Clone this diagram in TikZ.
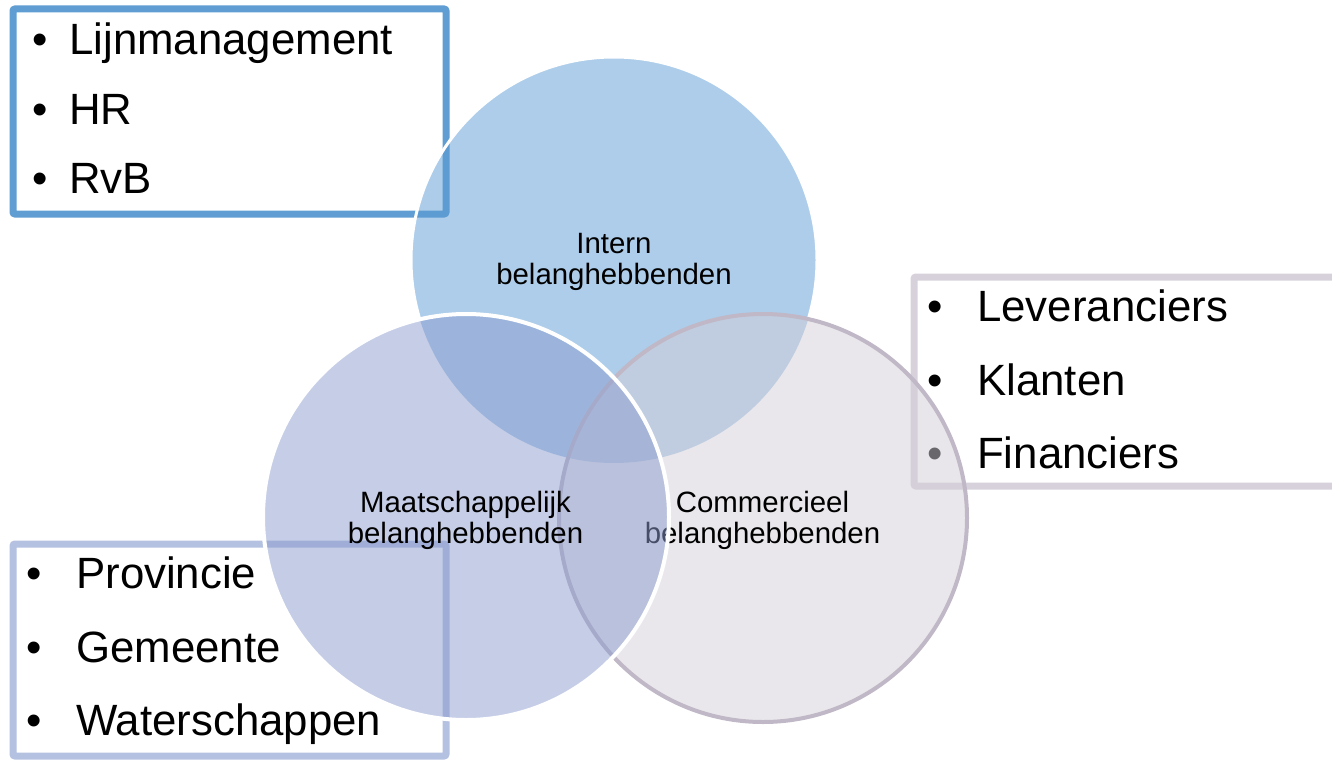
\documentclass[tikz,border=0pt]{standalone}
\usepackage{fontspec}
\setmainfont{Liberation Sans}
\definecolor{internblue}{RGB}{91,155,213}
\definecolor{maatblue}{RGB}{141,157,207}
\definecolor{commgray}{RGB}{211,207,215}
\definecolor{commline}{RGB}{192,184,198}
\definecolor{boxblue}{RGB}{96,157,210}
\definecolor{boxgray}{RGB}{214,209,219}
\definecolor{boxlav}{RGB}{180,193,225}
\begin{document}
\begin{tikzpicture}[x=1pt,y=-1pt,
  listbox/.style={draw=#1, fill=white, line width=7pt, rounded corners=2pt,
    inner sep=0pt, rectangle},
  listtext/.style={anchor=base west, inner sep=0pt,
    font=\fontsize{43.8}{50}\selectfont},
  bulletmark/.style={anchor=base, inner sep=0pt,
    font=\fontsize{43.8}{50}\selectfont},
  venn/.style={circle, inner sep=0pt, minimum size=#1},
  circlabel/.style={anchor=base, align=center, inner sep=0pt,
    font=\fontsize{29.4}{31}\selectfont}]
\useasboundingbox (0,0) rectangle (1332,760);
\clip (0,0) rectangle (1332,760);

% stakeholder lists
\node[listbox=boxblue, minimum width=433pt, minimum height=205pt] (boxint) at (229.5,111.5) {};
\node[listbox=boxgray, minimum width=431pt, minimum height=209pt] (boxcom) at (1129.5,381.5) {};
\node[listbox=boxlav, minimum width=433pt, minimum height=212pt] (boxmaat) at (229.5,650) {};

\node[bulletmark] (b1) at (40.5,55) {•};
\node[listtext] (t1) at (69,55) {Lijnmanagement};
\node[bulletmark] (b2) at (40.5,124) {•};
\node[listtext] (t2) at (69,124) {HR};
\node[bulletmark] (b3) at (40.5,193) {•};
\node[listtext] (t3) at (69,193) {RvB};

\node[bulletmark] (b4) at (935,321.5) {•};
\node[listtext] (t4) at (977,321.5) {Leveranciers};
\node[bulletmark] (b5) at (935,395) {•};
\node[listtext] (t5) at (977,395) {Klanten};
\node[bulletmark] (b6) at (935,468.5) {•};
\node[listtext] (t6) at (977,468.5) {Financiers};

\node[bulletmark] (b7) at (34,588.5) {•};
\node[listtext] (t7) at (76,588.5) {Provincie};
\node[bulletmark] (b8) at (34,662) {•};
\node[listtext] (t8) at (76,662) {Gemeente};
\node[bulletmark] (b9) at (34,735.5) {•};
\node[listtext] (t9) at (76,735.5) {Waterschappen};

% Venn circles; each label sits on the baseline of its last line
\node[venn=406pt, fill=internblue, fill opacity=0.5] (intern) at (614,260) {};
\begin{scope}
  \clip (0,0) rectangle (1332,320);
  \draw[white, line width=3pt] (intern.center) circle[radius=203pt];
\end{scope}
\node[circlabel] (lintern) at (614,284.5) {Intern\\belanghebbenden};

\node[venn=408pt, fill=commgray, fill opacity=0.5, draw=commline, draw opacity=1, line width=4pt] (comm) at (763,518) {};
\node[circlabel] (lcomm) at (762.5,543) {Commercieel\\belanghebbenden};

\node[venn=406pt, fill=maatblue, fill opacity=0.5, draw=white, draw opacity=1, line width=4pt] (maat) at (466,517) {};
\node[circlabel] (lmaat) at (465.5,543.5) {Maatschappelijk\\belanghebbenden};
\end{tikzpicture}
\end{document}
